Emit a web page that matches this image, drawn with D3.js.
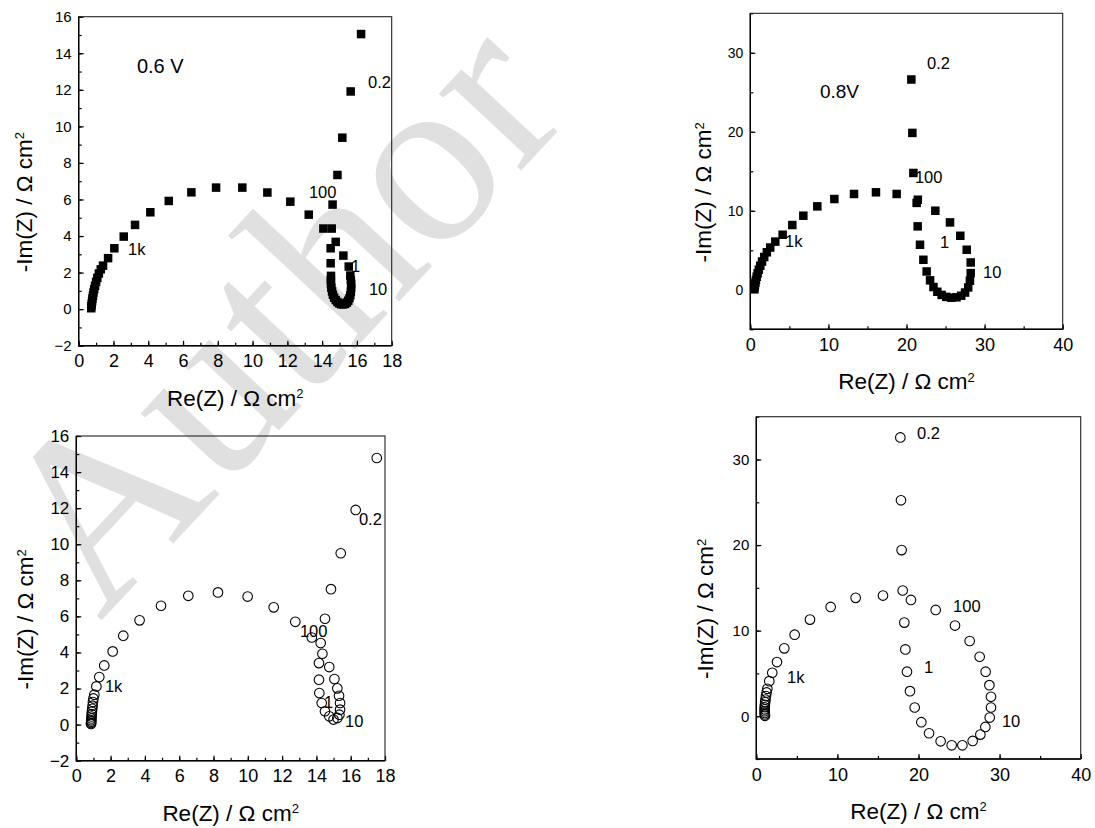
<!DOCTYPE html>
<html>
<head>
<meta charset="utf-8">
<script src="https://cdn.jsdelivr.net/npm/d3@7"></script>
<style>
  body { margin: 0; background: #fff; }
  text { font-family: Arial, "Liberation Sans", sans-serif; fill: #000; }
</style>
</head>
<body>
<svg id="chart" width="1095" height="828"></svg>
<script>
// Nyquist data, [Re(Z), -Im(Z)] in ohm cm2
const sq06 = [
	[0.72, 0.05], [0.73, 0.16], [0.75, 0.29], [0.77, 0.43], [0.79, 0.58], [0.82, 0.74],
	[0.85, 0.91], [0.89, 1.09], [0.94, 1.28], [1.0, 1.49], [1.07, 1.71], [1.16, 1.95],
	[1.27, 2.18], [1.4, 2.38], [1.69, 2.79], [2.05, 3.33], [2.59, 3.97], [3.24, 4.61],
	[4.12, 5.3], [5.18, 5.92], [6.48, 6.39], [7.9, 6.65], [9.41, 6.65], [10.85, 6.38],
	[12.17, 5.88], [13.23, 5.17], [14.07, 4.41], [14.49, 3.33], [14.49, 2.51],
	[14.51, 1.82], [14.5, 1.6], [14.51, 1.38], [14.53, 1.17], [14.57, 0.97], [14.62, 0.79],
	[14.69, 0.63], [14.78, 0.5], [14.88, 0.39], [14.99, 0.31], [15.1, 0.27], [15.21, 0.26],
	[15.32, 0.29], [15.42, 0.36], [15.5, 0.46], [15.57, 0.6], [15.62, 0.76], [15.65, 0.95],
	[15.67, 1.16], [15.67, 1.38], [15.65, 1.6], [15.62, 1.84], [15.53, 2.33], [15.22, 2.93],
	[14.78, 3.68], [14.55, 4.41], [14.6, 5.72], [14.88, 7.34], [15.16, 9.38], [15.64, 11.91],
	[16.24, 15.05]
];
const sq08 = [
	[0.52, 0.06], [0.55, 0.3], [0.59, 0.58], [0.65, 0.9], [0.72, 1.25], [0.82, 1.65],
	[0.94, 2.08], [1.09, 2.55], [1.28, 3.05], [1.5, 3.58], [1.78, 4.15], [2.12, 4.75],
	[2.55, 5.35], [3.2, 6.1], [4.14, 6.97], [5.38, 8.2], [6.79, 9.38], [8.58, 10.56],
	[10.76, 11.49], [13.28, 12.13], [16.09, 12.34], [18.74, 12.13], [21.45, 11.4],
	[23.69, 10.01], [25.57, 8.53], [26.89, 6.84], [27.71, 5.07], [28.22, 3.46], [28.22, 2.11],
	[28.12, 1.15], [27.9, 0.3], [27.5, -0.35], [27.0, -0.75], [26.4, -0.95], [25.75, -1.0],
	[25.1, -0.9], [24.5, -0.65], [23.95, -0.25], [23.45, 0.35], [23.02, 1.2], [22.58, 2.32],
	[22.16, 3.8], [21.73, 5.7], [21.43, 8.03], [21.3, 11.0], [20.88, 14.79], [20.75, 19.86],
	[20.62, 26.62]
];
const ci06 = [
	[0.86, 0.04], [0.86, 0.09], [0.87, 0.16], [0.87, 0.24], [0.88, 0.34], [0.89, 0.45],
	[0.9, 0.58], [0.91, 0.72], [0.93, 0.88], [0.95, 1.05], [0.97, 1.25], [1.0, 1.45],
	[1.05, 1.66], [1.17, 2.12], [1.34, 2.64], [1.63, 3.28], [2.12, 4.06], [2.74, 4.93],
	[3.69, 5.78], [4.94, 6.59], [6.53, 7.14], [8.26, 7.33], [9.99, 7.1], [11.51, 6.5],
	[12.77, 5.7], [13.73, 4.83], [14.25, 4.52], [14.35, 3.93], [14.15, 3.41], [14.15, 2.49],
	[14.17, 1.75], [14.31, 1.2], [14.5, 0.74], [14.75, 0.46], [15.0, 0.28], [15.22, 0.37],
	[15.34, 0.55], [15.38, 0.83], [15.38, 1.2], [15.32, 1.6], [15.22, 2.01], [15.05, 2.53],
	[14.75, 3.19], [14.5, 5.87], [14.85, 7.51], [15.42, 9.5], [16.29, 11.9], [17.52, 14.78]
];
const ci08 = [
	[1.07, 0.05], [1.05, 0.2], [1.04, 0.38], [1.03, 0.58], [1.03, 0.8], [1.04, 1.05],
	[1.06, 1.32], [1.09, 1.62], [1.13, 1.95], [1.19, 2.35], [1.27, 2.78], [1.36, 3.2],
	[1.6, 4.1], [1.97, 5.08], [2.55, 6.33], [3.45, 7.93], [4.73, 9.53], [6.62, 11.29],
	[9.17, 12.77], [12.25, 13.83], [15.62, 14.1], [19.07, 13.59], [22.12, 12.42], [24.5, 10.59],
	[26.31, 8.79], [27.54, 6.95], [28.28, 5.2], [28.74, 3.63], [28.94, 2.27], [28.94, 1.02],
	[28.78, -0.16], [28.24, -1.25], [27.63, -2.15], [26.68, -2.89], [25.41, -3.4], [24.09, -3.4],
	[22.73, -2.93], [21.3, -1.99], [20.35, -0.7], [19.53, 1.02], [18.95, 2.93], [18.58, 5.2],
	[18.38, 7.81], [18.25, 10.94], [18.05, 14.69], [17.92, 19.41], [17.84, 25.23], [17.76, 32.58]
];

// frequency annotations (Hz), placed in data units
const lab06a = [['0.6 V', 3.35, 12.91, 20], ['0.2', 16.64, 12.09], ['100', 13.24, 6.07], ['1k', 2.84, 2.95], ['10', 16.69, 0.77], ['1', 15.66, 2.03]];
const lab08a = [['0.8V', 8.92, 24.28, 19], ['0.2', 22.62, 27.95], ['100', 21.08, 13.52], ['1', 24.29, 5.29], ['10', 29.8, 1.49], ['1k', 4.44, 5.42]];
const lab06b = [['0.2', 16.48, 11.07], ['100', 13.04, 4.86], ['1k', 1.67, 1.81], ['1', 14.44, 0.92], ['10', 15.67, -0.13]];
const lab08b = [['0.2', 19.82, 32.39], ['100', 24.26, 12.18], ['1', 20.68, 5.05], ['1k', 3.79, 3.88], ['10', 30.29, -1.26]];

const xTicks18 = d3.range(0, 19, 2);
const yTicks16 = d3.range(-2, 17, 2);
const xTicks40 = [0, 10, 20, 30, 40];
const yTicks35 = [0, 10, 20, 30];

const svg = d3.select('#chart');

// pale watermark behind everything
svg.append('text')
	.attr('transform', 'translate(100,622) rotate(-47)')
	.style('font-family', '"Liberation Serif", "Times New Roman", serif')
	.style('font-size', '245px')
	.style('fill', '#e0e0e0')
	.text('Author');

const panels = [
	{ data: sq06, sym: 'sq', box: [78.7, 16.7, 391.7, 345.7], xd: [0, 18], yd: [-2, 16], xt: xTicks18, yt: yTicks16, xm: 1, ym: 1, yfs: 15, ytx: 47, labels: lab06a },
	{ data: sq08, sym: 'sq', box: [750.3, 13.3, 1062.7, 329.3], xd: [0, 40], yd: [-5, 35], xt: xTicks40, yt: yTicks35, xm: 5, ym: 5, yfs: 14, ytx: 39, labels: lab08a },
	{ data: ci06, sym: 'ci', box: [76.3, 436, 385, 760.7], xd: [0, 18], yd: [-2, 16], xt: xTicks18, yt: yTicks16, xm: 1, ym: 1, yfs: 17, ytx: 43, labels: lab06b },
	{ data: ci08, sym: 'ci', box: [756.3, 416.7, 1080.7, 759], xd: [0, 40], yd: [-5, 35], xt: xTicks40, yt: yTicks35, xm: 5, ym: 5, yfs: 15, ytx: 43, labels: lab08b }
];

panels.forEach((p) => {
	const [x0, y0, x1, y1] = p.box;
	const x = d3.scaleLinear().domain(p.xd).range([x0, x1]);
	const y = d3.scaleLinear().domain(p.yd).range([y1, y0]);
	const g = svg.append('g');

	const minor = (dom, step) => d3.range(dom[0], dom[1] + 1e-9, step);

	// minor ticks
	g.append('g').attr('transform', `translate(0,${y1})`)
		.call(d3.axisBottom(x).tickValues(minor(p.xd, p.xm)).tickSize(-3).tickSizeOuter(0).tickFormat(''))
		.call((s) => s.select('.domain').remove());
	g.append('g').attr('transform', `translate(${x0},0)`)
		.call(d3.axisLeft(y).tickValues(minor(p.yd, p.ym)).tickSize(-3).tickSizeOuter(0).tickFormat(''))
		.call((s) => s.select('.domain').remove());

	// major ticks + labels
	const xa = g.append('g').attr('transform', `translate(0,${y1})`)
		.call(d3.axisBottom(x).tickValues(p.xt).tickSize(-5).tickSizeOuter(0).tickPadding(9).tickFormat(d3.format('d')));
	const ya = g.append('g').attr('transform', `translate(${x0},0)`)
		.call(d3.axisLeft(y).tickValues(p.yt).tickSize(-5).tickSizeOuter(0).tickPadding(7).tickFormat(d3.format('d')));
	[xa, ya].forEach((a) => {
		a.select('.domain').remove();
		a.attr('font-family', null).attr('font-size', null);
	});
	xa.selectAll('text').style('font-size', '18px');
	ya.selectAll('text').style('font-size', p.yfs + 'px');
	g.selectAll('.tick line').attr('stroke', '#000').attr('stroke-width', 1.2);

	// frame
	g.append('rect')
		.attr('x', x0).attr('y', y0)
		.attr('width', x1 - x0).attr('height', y1 - y0)
		.attr('fill', 'none').attr('stroke', '#222').attr('stroke-width', 1.1);
	g.append('path')
		.attr('d', `M${x0},${y0}V${y1}H${x1}`)
		.attr('fill', 'none').attr('stroke', '#000').attr('stroke-width', 1.4);

	// axis titles
	const xt = g.append('text')
		.attr('x', (x0 + x1) / 2).attr('y', y1 + 60)
		.attr('text-anchor', 'middle').style('font-size', '22.5px');
	xt.append('tspan').text('Re(Z) / \u03A9 cm');
	xt.append('tspan').attr('dy', '-0.6em').style('font-size', '13px').text('2');

	const yt = g.append('text')
		.attr('transform', `translate(${x0 - p.ytx},${(y0 + y1) / 2 + 21}) rotate(-90)`)
		.attr('text-anchor', 'middle').style('font-size', '22.5px');
	yt.append('tspan').text('-Im(Z) / \u03A9 cm');
	yt.append('tspan').attr('dy', '-0.6em').style('font-size', '13px').text('2');

	// annotations (drawn under the markers)
	g.selectAll('text.ann')
		.data(p.labels)
		.enter()
		.append('text')
		.attr('class', 'ann')
		.attr('x', (d) => x(d[1]))
		.attr('y', (d) => y(d[2]))
		.style('font-size', (d) => (d[3] || 16.5) + 'px')
		.text((d) => d[0]);

	// markers
	if (p.sym === 'sq') {
		g.selectAll('rect.pt')
			.data(p.data)
			.enter()
			.append('rect')
			.attr('class', 'pt')
			.attr('x', (d) => x(d[0]) - 4.25)
			.attr('y', (d) => y(d[1]) - 4.25)
			.attr('width', 8.5).attr('height', 8.5)
			.attr('fill', '#000');
	} else {
		g.selectAll('circle.pt')
			.data(p.data)
			.enter()
			.append('circle')
			.attr('class', 'pt')
			.attr('cx', (d) => x(d[0]))
			.attr('cy', (d) => y(d[1]))
			.attr('r', 4.8)
			.attr('fill', 'none')
			.attr('stroke', '#000')
			.attr('stroke-width', 1.1);
	}
});
</script>
</body>
</html>
